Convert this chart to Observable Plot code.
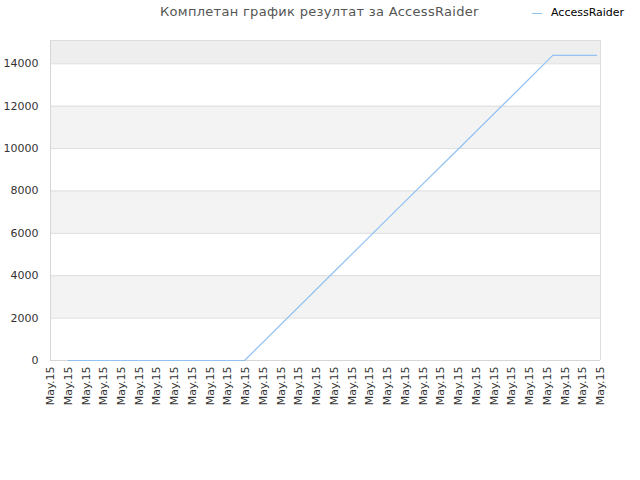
<!DOCTYPE html>
<html>
<head>
<meta charset="utf-8">
<script src="https://cdn.jsdelivr.net/npm/d3@7"></script>
<script src="https://cdn.jsdelivr.net/npm/@observablehq/plot@0.6"></script>
<style>
  html, body { margin: 0; padding: 0; background: #fff; }
  body { width: 640px; height: 480px; overflow: hidden; font-family: "DejaVu Sans", sans-serif; }
  #header { position: relative; height: 28px; }
  #title { position: absolute; left: 160px; top: 4px; font-size: 13px; color: #555; letter-spacing: 0.3px; white-space: nowrap; }
  #legend { position: absolute; left: 532px; top: 6px; font-size: 11px; color: #000; white-space: nowrap; }
  #legend .sw { display: inline-block; width: 10px; height: 1px; background: #90c2f2; vertical-align: middle; margin-right: 9px; }
</style>
</head>
<body>
<div id="header">
  <div id="title">Комплетан график резултат за AccessRaider</div>
  <div id="legend"><span class="sw"></span>AccessRaider</div>
</div>
<div id="chart"></div>
<script>
// x tick labels (32 evenly spaced)
const tickLabels = Array.from({length: 32}, () => "May.15");
// series: position along the label axis (index units) and cumulative score
const seriesX = [1, 10.94, 16.07, 19.62, 23.06, 26.55, 28.31, 30.78];
const seriesY = [0, 0, 4260, 7200, 10040, 12930, 14400, 14400];
const yTicks = [0, 2000, 4000, 6000, 8000, 10000, 12000, 14000];
const yMax = 15100;
const grayBands = [[2000, 4000], [6000, 8000], [10000, 12000]];
const topBand = [[14000, yMax]];

const lineData = seriesX.map((x, i) => ({x, y: seriesY[i]}));
const bands = grayBands.map(([a, b]) => ({a, b}));
const tops = topBand.map(([a, b]) => ({a, b}));
const tickIdx = tickLabels.map((_, i) => i);

const chart = Plot.plot({
  width: 640,
  height: 452,
  marginTop: 12,
  marginLeft: 50,
  marginRight: 40,
  marginBottom: 120,
  style: {fontFamily: "DejaVu Sans, sans-serif", fontSize: "11px", color: "#333", background: "#fff"},
  x: {domain: [0, tickLabels.length - 1], label: null},
  y: {domain: [0, yMax], label: null},
  marks: [
    Plot.rectY(bands, {x1: 0, x2: tickLabels.length - 1, y1: "a", y2: "b", fill: "#f3f3f3"}),
    Plot.rectY(tops, {x1: 0, x2: tickLabels.length - 1, y1: "a", y2: "b", fill: "#eeeeee"}),
    Plot.ruleY(yTicks.slice(1), {stroke: "#dddddd", strokeWidth: 1}),
    Plot.ruleY([yMax], {stroke: "#dddddd"}),
    Plot.ruleX([tickLabels.length - 1], {stroke: "#dddddd"}),
    Plot.ruleX([0], {stroke: "#d6d6d6"}),
    Plot.ruleY([0], {stroke: "#d6d6d6"}),
    Plot.axisX({ticks: tickIdx, tickFormat: i => tickLabels[i], tickRotate: -90, tickSize: 0, tickPadding: 6, fill: "#333", textAnchor: "end", label: null}),
    Plot.axisY({ticks: yTicks, tickFormat: d => String(d), tickSize: 0, tickPadding: 12, fill: "#333", label: null}),
    Plot.line(lineData, {x: "x", y: "y", stroke: "#90c2f2", strokeWidth: 1.2})
  ]
});
document.getElementById("chart").appendChild(chart);
</script>
</body>
</html>
